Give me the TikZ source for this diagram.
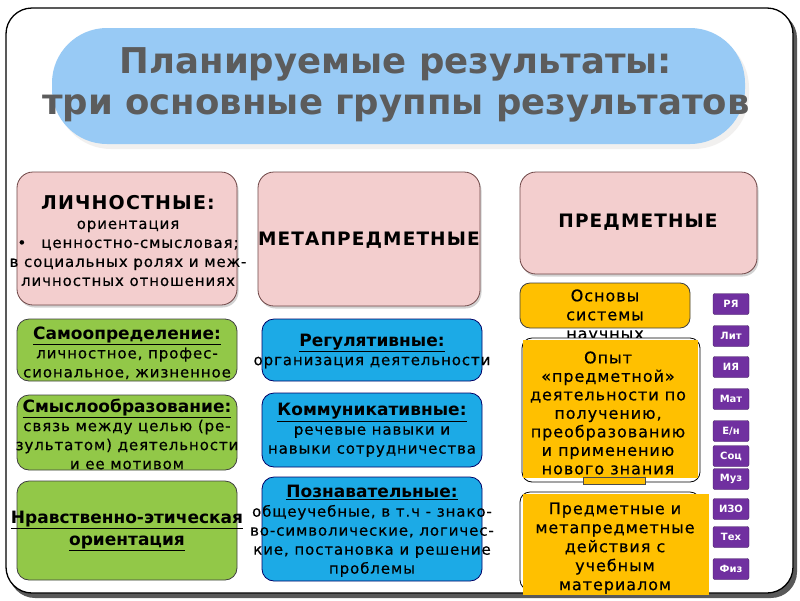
\documentclass[tikz,border=0pt]{standalone}
\usepackage{fontspec}
\setmainfont{DejaVu Sans}
\newfontfamily\bodyfont[LetterSpace=6, FakeBold=0.4]{DejaVu Sans}
\newfontfamily\capfont[LetterSpace=6]{DejaVu Sans}
\usetikzlibrary{shadows}
\definecolor{titleblue}{RGB}{152,202,245}
\definecolor{titlegray}{RGB}{92,92,92}
\definecolor{pinkfill}{RGB}{243,206,206}
\definecolor{pinkline}{RGB}{110,70,70}
\definecolor{greenfill}{RGB}{146,200,72}
\definecolor{bluefill}{RGB}{28,170,230}
\definecolor{yellowfill}{RGB}{255,192,0}
\definecolor{purplefill}{RGB}{112,48,160}
\newcommand{\myhd}[1]{{\fontsize{17}{19}\selectfont\rmfamily\bfseries\underline{#1}}}
\begin{document}
\begin{tikzpicture}[x=1pt,y=-1pt,
  box/.style={rectangle, anchor=north west, inner sep=0pt, outer sep=0pt, line width=0.8pt},
  pinkbox/.style={box, draw=pinkline, fill=pinkfill, rounded corners=16pt,
    drop shadow={shadow xshift=1.5pt, shadow yshift=-2.5pt, opacity=0.35}},
  greenbox/.style={box, draw=black!75, fill=greenfill, rounded corners=12pt},
  bluebox/.style={box, draw=black!60!blue, fill=bluefill, rounded corners=12pt},
  ybox/.style={box, draw=black!75, fill=yellowfill, rounded corners=10pt},
  pbtn/.style={rectangle, fill=purplefill, draw=purplefill!60!black, rounded corners=2pt,
    minimum width=36pt, minimum height=21pt, inner sep=0pt, text=white,
    font=\fontsize{10}{10}\selectfont\bfseries},
  txt/.style={align=center, inner sep=0pt, font=\bodyfont\fontsize{15}{19}\selectfont},
  bigtxt/.style={inner sep=0pt, font=\capfont\fontsize{18.5}{20}\selectfont\bfseries}
]
\useasboundingbox (0,0) rectangle (800,600);
% outer frame
\fill[black!65, rounded corners=26pt] (9,12) rectangle (797,598);
\draw[fill=white, line width=1.3pt, rounded corners=26pt] (6,8) rectangle (793,593);
% title
\node[box, fill=titleblue, rounded corners=55pt, minimum width=693pt, minimum height=116pt,
  drop shadow={shadow xshift=4pt, shadow yshift=-5pt, fill=orange!15!black!10, opacity=0.6}] (tblob) at (52,28) {};
\node[align=center, inner sep=0pt, text=titlegray, font=\fontsize{35.5}{41}\selectfont\bfseries] (title) at (396,85)
  {Планируемые результаты:\\три основные группы результатов};
% pink boxes
\node[pinkbox, minimum width=220pt, minimum height=133pt] (lich) at (17,172) {};
\node[txt] (licht) at (128,241) {{\capfont\fontsize{19}{19}\selectfont\bfseries ЛИЧНОСТНЫЕ:}\\ориентация\\•\quad ценностно-смысловая;\\в социальных ролях и меж-\\личностных отношениях};
\node[pinkbox, minimum width=222pt, minimum height=134pt] (meta) at (258,172) {};
\node[bigtxt] (metat) at (369,240) {МЕТАПРЕДМЕТНЫЕ};
\node[pinkbox, minimum width=237pt, minimum height=102pt] (pred) at (520,172) {};
\node[bigtxt] (predt) at (638,222) {ПРЕДМЕТНЫЕ};
% green boxes
\node[greenbox, minimum width=220pt, minimum height=62pt] (samo) at (17,319) {};
\node[txt] (samot) at (127,353) {\myhd{Самоопределение:}\\личностное, профес-\\сиональное, жизненное};
\node[greenbox, minimum width=220pt, minimum height=75pt] (smysl) at (17,395) {};
\node[txt] (smyslt) at (127,434) {\myhd{Смыслообразование:}\\связь между целью (ре-\\зультатом) деятельности\\и ее мотивом};
\node[greenbox, minimum width=220pt, minimum height=99pt] (nrav) at (17,481) {};
\node[txt, font=\fontsize{17}{22}\selectfont\bfseries] (nravt) at (127,531) {\underline{Нравственно-этическая}\\\underline{ориентация}};
% blue boxes
\node[bluebox, minimum width=220pt, minimum height=62pt] (reg) at (262,319) {};
\node[txt] (regt) at (372,351) {\myhd{Регулятивные:}\\организация деятельности};
\node[bluebox, minimum width=220pt, minimum height=74pt] (komm) at (262,393) {};
\node[txt] (kommt) at (372,430) {\myhd{Коммуникативные:}\\речевые навыки и\\навыки сотрудничества};
\node[bluebox, minimum width=220pt, minimum height=104pt] (pozn) at (262,477) {};
\node[txt] (poznt) at (372,531) {\myhd{Познавательные:}\\общеучебные, в т.ч - знако-\\во-символические, логичес-\\кие, постановка и решение\\проблемы};
% yellow boxes
\node[ybox, minimum width=170pt, minimum height=45pt] (osn) at (520,283) {};
\node[txt, font=\bodyfont\fontsize{16}{19}\selectfont] (osnt) at (605,316) {Основы\\системы\\научных};
\node[box, draw=black, fill=white, rounded corners=10pt, minimum width=178pt, minimum height=144pt] (opytframe) at (522,338) {};
\node[box, fill=yellowfill, minimum width=175pt, minimum height=138pt] (opyt) at (523,340) {};
\node[txt, font=\bodyfont\fontsize{16}{18.5}\selectfont] (opytt) at (608,413) {Опыт\\«предметной»\\деятельности по\\получению,\\преобразованию\\и применению\\нового знания};
\node[box, fill=yellowfill, draw=black!70, minimum width=62pt, minimum height=7pt] (tab) at (583,477) {};
\node[box, draw=black, fill=white, rounded corners=10pt, minimum width=180pt, minimum height=98pt] (pdframe) at (520,492) {};
\node[box, fill=yellowfill, minimum width=186pt, minimum height=101pt] (pd) at (523,494) {};
\node[txt, font=\bodyfont\fontsize{16}{19}\selectfont] (pdt) at (615,548) {Предметные и\\метапредметные\\действия с\\учебным\\материалом};
% purple subject buttons
\node[pbtn] (b1) at (731,304) {РЯ};
\node[pbtn] (b2) at (731,336) {Лит};
\node[pbtn] (b3) at (731,367) {ИЯ};
\node[pbtn] (b4) at (731,399) {Мат};
\node[pbtn] (b5) at (731,431) {Е/н};
\node[pbtn] (b6) at (731,456) {Соц};
\node[pbtn] (b7) at (731,479) {Муз};
\node[pbtn] (b8) at (731,509) {ИЗО};
\node[pbtn] (b9) at (731,537) {Тех};
\node[pbtn] (b10) at (731,569) {Физ};
\end{tikzpicture}
\end{document}
